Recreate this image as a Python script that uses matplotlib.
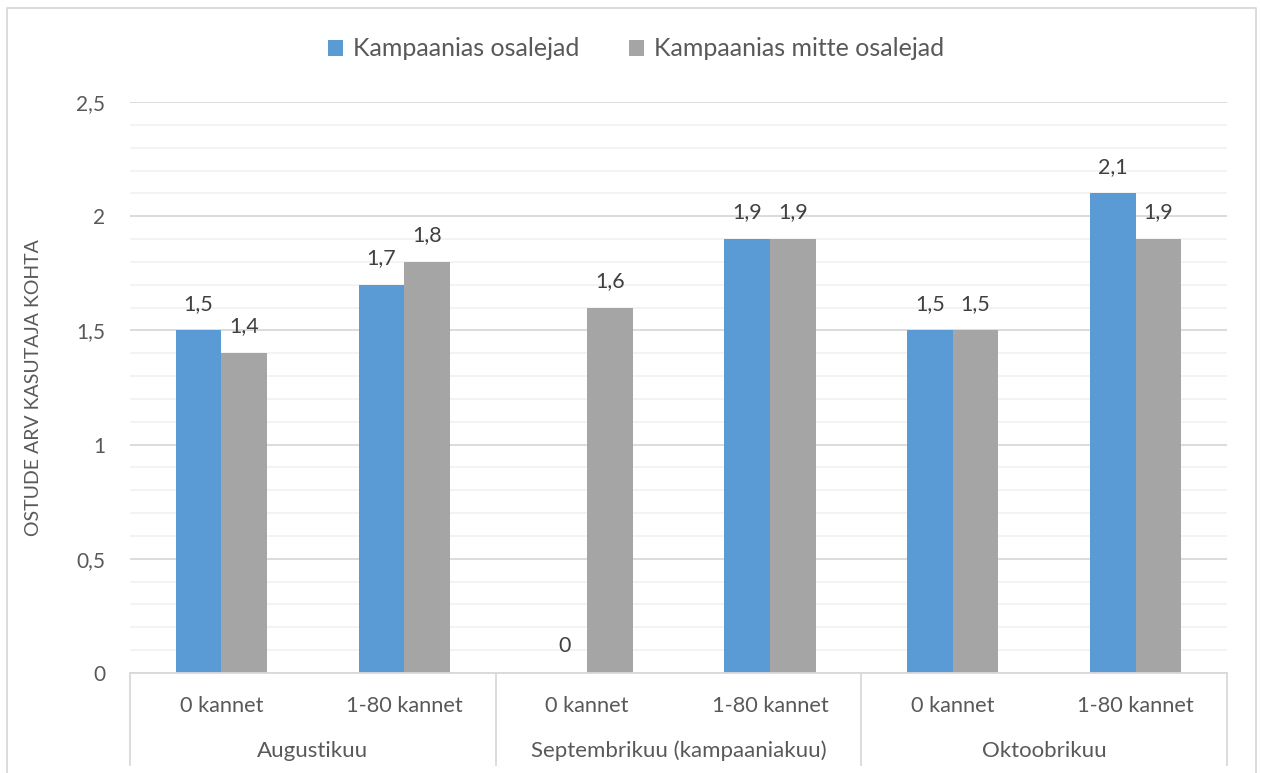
import matplotlib
matplotlib.use("Agg")
import matplotlib.pyplot as plt
from matplotlib.lines import Line2D
from matplotlib.patches import Patch
import matplotlib.transforms as mtransforms
import numpy as np

plt.rcParams['font.family'] = ['Lato', 'DejaVu Sans']

months = ["Augustikuu", "Septembrikuu (kampaaniakuu)", "Oktoobrikuu"]
subcats = ["0 kannet", "1-80 kannet"]
series_names = ["Kampaanias osalejad", "Kampaanias mitte osalejad"]
participants = [1.5, 1.7, 0, 1.9, 1.5, 2.1]
non_participants = [1.4, 1.8, 1.6, 1.9, 1.5, 1.9]
value_labels_p = ["1,5", "1,7", "0", "1,9", "1,5", "2,1"]
value_labels_n = ["1,4", "1,8", "1,6", "1,9", "1,5", "1,9"]
yticks = [0, 0.5, 1, 1.5, 2, 2.5]
ytick_labels = ["0", "0,5", "1", "1,5", "2", "2,5"]

blue = "#5B9BD5"
gray = "#A5A5A5"
txt = "#404040"
tick_col = "#595959"

W, H = 1261, 773
fig = plt.figure(figsize=(W / 100, H / 100), dpi=100)
ax = fig.add_axes([130 / W, 1 - 673 / H, (1227 - 130) / W, (673 - 102) / H])

n = len(participants)
x = np.arange(n) + 0.5
bw = 0.25
ax.bar(x - bw / 2, participants, bw, color=blue, zorder=3)
ax.bar(x + bw / 2, non_participants, bw, color=gray, zorder=3)

for xi, v, lab in zip(x - bw / 2, participants, value_labels_p):
    ax.annotate(lab, (xi, v), xytext=(0, 12), textcoords="offset points",
                ha="center", va="bottom", fontsize=15.5, color=txt)
for xi, v, lab in zip(x + bw / 2, non_participants, value_labels_n):
    ax.annotate(lab, (xi, v), xytext=(0, 12), textcoords="offset points",
                ha="center", va="bottom", fontsize=15.5, color=txt)

ax.set_xlim(0, n)
ax.set_ylim(0, 2.5)
ax.set_yticks(yticks)
ax.set_yticklabels(ytick_labels)
ax.set_yticks(np.arange(0, 2.51, 0.1), minor=True)
ax.tick_params(axis="y", which="both", length=0, labelsize=15, labelcolor=tick_col, pad=18)
ax.tick_params(axis="x", which="both", length=0, labelbottom=False)
ax.grid(axis="y", which="major", color="#D9D9D9", linewidth=1.3, zorder=0)
ax.grid(axis="y", which="minor", color="#F2F2F2", linewidth=1.3, zorder=0)
for s in ["top", "right", "left"]:
    ax.spines[s].set_visible(False)
ax.spines["bottom"].set_color("#D9D9D9")
ax.spines["bottom"].set_linewidth(1.3)
ax.spines["bottom"].set_zorder(4)

ax.set_ylabel("OSTUDE ARV KASUTAJA KOHTA", fontsize=14, color=tick_col)
ax.yaxis.set_label_coords(-(130 - 42) / (1227 - 130), 0.5)

trans = mtransforms.blended_transform_factory(ax.transData, ax.transAxes)
ah = (673 - 102)
sub_y = -(706 - 673) / ah
grp_y = -(751 - 673) / ah
line_bottom = -(765 - 673) / ah
for i in range(n):
    ax.text(x[i], sub_y, subcats[i % 2], transform=trans, ha="center", va="center",
            fontsize=15.7, color=tick_col)
for g, m in enumerate(months):
    ax.text(2 * g + 1, grp_y, m, transform=trans, ha="center", va="center",
            fontsize=16, color=tick_col)
for b in [0, 2, 4, 6]:
    ax.plot([b, b], [0, line_bottom], transform=trans, color="#D9D9D9",
            linewidth=1.3, clip_on=False, zorder=4)

handles = [Patch(facecolor=blue, edgecolor="none"), Patch(facecolor=gray, edgecolor="none")]
fig.legend(handles, series_names, loc="center", bbox_to_anchor=(636 / W, 1 - 49 / H),
           ncol=2, frameon=False, fontsize=18, handlelength=0.6, handleheight=0.6,
           handletextpad=0.4, columnspacing=1.95, labelcolor=tick_col)

# chart area border
bl, br, bt = 7 / W, 1256 / W, 1 - 8 / H
fig.add_artist(Line2D([bl, bl, br, br], [0, bt, bt, 0], transform=fig.transFigure,
                      color="#D9D9D9", linewidth=1.3))

fig.savefig("out.png", dpi=100)
